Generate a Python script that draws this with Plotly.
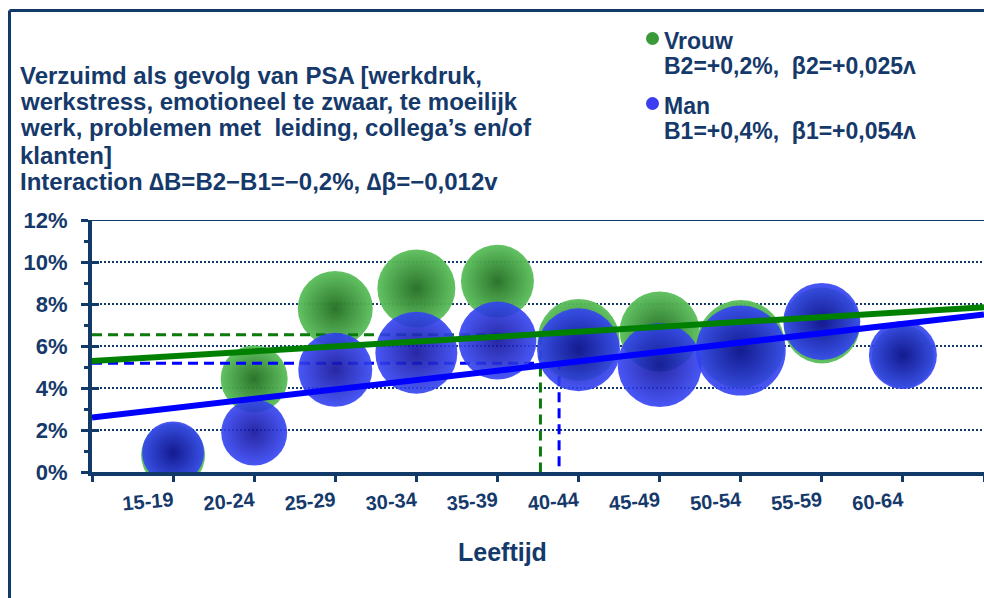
import plotly.graph_objects as go

# ---------------- data ----------------
leeftijd = ["15-19", "20-24", "25-29", "30-34", "35-39",
            "40-44", "45-49", "50-54", "55-59", "60-64"]
vrouw_pct = [0.80, 4.44, 7.79, 8.74, 9.08, 6.29, 6.69, 6.09, 6.98, 5.50]
man_pct = [0.93, 1.88, 4.87, 5.68, 6.26, 5.82, 5.09, 5.78, 7.17, 5.57]
vrouw_n = [64, 67, 75, 78, 73, 82, 80, 88, 76, 62]
man_n = [62, 66, 74, 82, 78, 83, 84, 90, 77, 68]
trend_x = [0, 11]
vrouw_trend = [5.28, 7.84]
man_trend = [2.60, 7.50]
vrouw_mean = (5.53, 6.53)
man_mean = (5.76, 5.18)
y_ticks = [0, 2, 4, 6, 8, 10, 12]
y_minor = [1, 3, 5, 7, 9, 11]

title_lines = [
    "Verzuimd als gevolg van PSA [werkdruk,",
    "werkstress, emotioneel te zwaar, te moeilijk",
    "werk, problemen met  leiding, collega’s en/of",
    "klanten]",
    "Interaction \u2206B=B2\u2212B1=\u22120,2%, \u2206\u03b2=\u22120,012v",
]
legend_items = [
    ("Vrouw", "B2=+0,2%,  \u03b22=+0,025\u028c", "#3a9a3a"),
    ("Man", "B1=+0,4%,  \u03b21=+0,054\u028c", "#3c3cf0"),
]

# ---------------- style ----------------
NAVY = "#123a68"
TXT = "#15396a"
FONT = "Liberation Sans, Arial, sans-serif"
W, H = 1000, 598          # figure is a bit wider than the 984 px view
L, R, T, B = 92, 984, 220, 472   # plot area in page pixels


def px(x):
    return (x - L) / (R - L)


def py(y):
    return (B - y) / (B - T)


x_pos = list(range(1, len(leeftijd) + 1))

fig = go.Figure()

# green bubbles
fig.add_trace(go.Scatter(
    x=x_pos, y=vrouw_pct, mode="markers", name="Vrouw",
    marker=dict(size=vrouw_n, sizemode="diameter", sizeref=1,
                color="#5cc05c", opacity=0.96,
                gradient=dict(type="radial", color="#236f23"),
                line=dict(width=0)),
    hoverinfo="skip", showlegend=False))

# dashed mean lines
for (mx, my), col in ((vrouw_mean, "#0a7a0a"), (man_mean, "#0000ff")):
    fig.add_trace(go.Scatter(
        x=[0, mx, mx], y=[my, my, 0], mode="lines",
        line=dict(color=col, width=3, dash="10px,6px"),
        hoverinfo="skip", showlegend=False))

# blue bubbles
fig.add_trace(go.Scatter(
    x=x_pos, y=man_pct, mode="markers", name="Man",
    marker=dict(size=man_n, sizemode="diameter", sizeref=1,
                color="#3444f4", opacity=0.9,
                gradient=dict(type="radial", color="#10109a"),
                line=dict(width=0)),
    hoverinfo="skip", showlegend=False))

# trend lines
fig.add_trace(go.Scatter(x=trend_x, y=vrouw_trend, mode="lines",
                         line=dict(color="#008000", width=6),
                         hoverinfo="skip", showlegend=False))
fig.add_trace(go.Scatter(x=trend_x, y=man_trend, mode="lines",
                         line=dict(color="#0000ff", width=6),
                         hoverinfo="skip", showlegend=False))

# invisible trace for the inner-tick axis
fig.add_trace(go.Scatter(x=[0], y=[0], yaxis="y2", mode="markers",
                         marker=dict(opacity=0), hoverinfo="skip",
                         showlegend=False))

annotations = []
title_y = [75, 101.5, 128, 155, 181]
for line, yy in zip(title_lines, title_y):
    annotations.append(dict(
        text=line, x=px(18), y=py(yy), xref="paper", yref="paper",
        xanchor="left", yanchor="middle", showarrow=False,
        font=dict(family=FONT, size=24, color=TXT, weight="bold")))

leg_y = [(40.5, 66), (105.5, 131)]
shapes = []
for (name, stat, col), (y1, y2) in zip(legend_items, leg_y):
    cy = y1 - 2
    shapes.append(dict(
        type="circle", xref="paper", yref="paper",
        x0=px(646), x1=px(659), y0=py(cy + 6.5), y1=py(cy - 6.5),
        fillcolor=col, line=dict(width=0)))
    annotations.append(dict(
        text=name, x=px(662), y=py(y1), xref="paper", yref="paper",
        xanchor="left", yanchor="middle", showarrow=False,
        font=dict(family=FONT, size=23, color=TXT, weight="bold")))
    annotations.append(dict(
        text=stat, x=px(662), y=py(y2), xref="paper", yref="paper",
        xanchor="left", yanchor="middle", showarrow=False,
        font=dict(family=FONT, size=23, color=TXT, weight="bold")))

annotations.append(dict(
    text="Leeftijd", x=px(502), y=py(552), xref="paper", yref="paper",
    xanchor="center", yanchor="middle", showarrow=False,
    font=dict(family=FONT, size=25, color=TXT, weight="bold")))

shapes += [
    # frame: left and top edges only
    dict(type="line", xref="paper", yref="paper",
         x0=px(9.5), x1=px(9.5), y0=py(H), y1=py(10.5),
         line=dict(color=NAVY, width=3)),
    dict(type="line", xref="paper", yref="paper",
         x0=px(9.5), x1=px(W), y0=py(10.5), y1=py(10.5),
         line=dict(color=NAVY, width=3)),
    # top line at 12%
    dict(type="line", xref="paper", yref="y", x0=0, x1=1,
         y0=y_ticks[-1], y1=y_ticks[-1],
         line=dict(color=NAVY, width=2)),
]

fig.update_layout(
    width=W, height=H,
    margin=dict(l=L, r=W - R, t=T, b=H - B, pad=0),
    paper_bgcolor="white", plot_bgcolor="white",
    showlegend=False,
    annotations=annotations, shapes=shapes,
    xaxis=dict(
        range=[0, 11], tickvals=[0] + x_pos + [11],
        ticktext=[""] + leeftijd + [""], tickangle=-5,
        showline=True, linecolor=NAVY, linewidth=4,
        ticks="outside", ticklen=6, tickwidth=3, tickcolor=NAVY,
        showgrid=False, zeroline=False,
        tickfont=dict(family=FONT, size=20, color=TXT, weight="bold"),
    ),
    yaxis=dict(
        range=[0, 12], tickvals=y_ticks,
        ticktext=[f"{v}%" for v in y_ticks],
        showline=True, linecolor=NAVY, linewidth=4,
        ticks="outside", ticklen=7, tickwidth=3, tickcolor=NAVY,
        ticklabelstandoff=9,
        minor=dict(tickvals=y_minor, ticks="outside", ticklen=4,
                   tickwidth=3, tickcolor=NAVY, showgrid=False),
        showgrid=True, gridcolor=NAVY, gridwidth=2, griddash="2px,2px",
        zeroline=False,
        tickfont=dict(family=FONT, size=22, color=TXT, weight="bold"),
    ),
    yaxis2=dict(
        range=[0, 12], overlaying="y", side="left", tickvals=y_ticks,
        showticklabels=False, ticks="inside", ticklen=7, tickwidth=3,
        tickcolor=NAVY, showgrid=False, zeroline=False, showline=False,
    ),
)

fig.write_html(
    "out.html",
    config={"displayModeBar": False},
    post_script="document.documentElement.style.overflow='hidden';"
                "document.body.style.margin='0';"
                "document.body.style.overflow='hidden';",
)
